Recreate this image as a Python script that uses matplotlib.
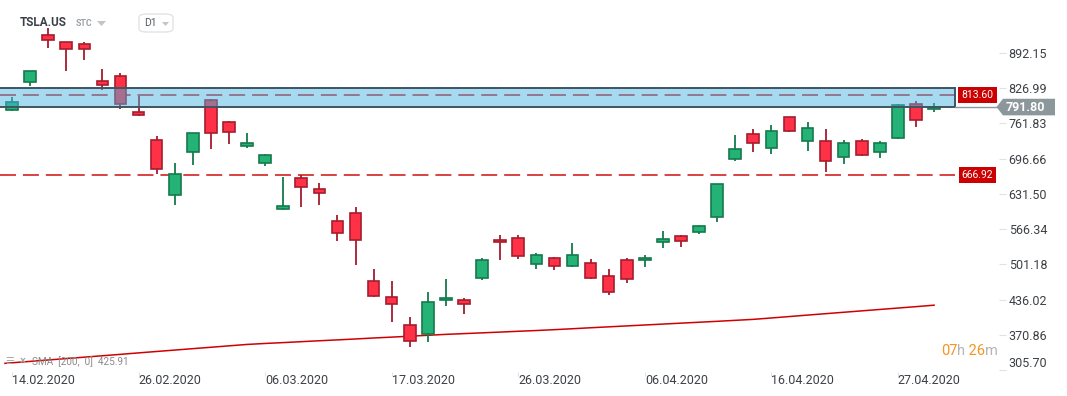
import matplotlib
matplotlib.use('Agg')
import matplotlib.pyplot as plt
from matplotlib.patches import Rectangle, Polygon, FancyBboxPatch

plt.rcParams['font.family'] = ['Roboto', 'DejaVu Sans']
plt.rcParams['lines.scale_dashes'] = False

# daily candles, TSLA.US
dates = ['14.02.2020', '18.02.2020', '19.02.2020', '20.02.2020', '21.02.2020', '24.02.2020',
         '25.02.2020', '26.02.2020', '27.02.2020', '28.02.2020', '02.03.2020', '03.03.2020',
         '04.03.2020', '05.03.2020', '06.03.2020', '09.03.2020', '10.03.2020', '11.03.2020',
         '12.03.2020', '13.03.2020', '16.03.2020', '17.03.2020', '18.03.2020', '19.03.2020',
         '20.03.2020', '23.03.2020', '24.03.2020', '25.03.2020', '26.03.2020', '27.03.2020',
         '30.03.2020', '31.03.2020', '01.04.2020', '02.04.2020', '03.04.2020', '06.04.2020',
         '07.04.2020', '08.04.2020', '09.04.2020', '13.04.2020', '14.04.2020', '15.04.2020',
         '16.04.2020', '17.04.2020', '20.04.2020', '21.04.2020', '22.04.2020', '23.04.2020',
         '24.04.2020', '27.04.2020', '28.04.2020', '29.04.2020']
opens = [785.8, 838.6, 924.3, 911.3, 907.7, 839.4, 848.6, 782.1, 730.4, 628.9, 709.4, 804.3,
         763.6, 720.5, 688.0, 603.0, 660.3, 640.5, 581.5, 595.6, 470.2, 440.6, 388.9, 372.3,
         435.1, 435.1, 475.7, 546.4, 549.5, 501.5, 512.6, 498.9, 503.4, 479.4, 508.9, 508.9,
         542.1, 553.2, 560.6, 588.3, 696.5, 741.5, 715.7, 772.9, 729.7, 728.6, 699.0, 728.6,
         708.3, 734.1, 796.9, 787.7]
highs = [810.9, 858.5, 937.2, 912.0, 911.9, 862.1, 854.1, 812.2, 738.4, 688.5, 744.0, 806.7,
         766.1, 743.9, 705.1, 662.7, 666.4, 651.6, 592.5, 607.3, 492.8, 470.7, 404.2, 450.5,
         474.4, 439.3, 513.2, 555.6, 555.6, 522.4, 514.9, 540.6, 511.3, 492.8, 513.2, 518.1,
         562.7, 555.6, 573.6, 650.5, 740.2, 751.3, 758.7, 773.5, 764.2, 751.3, 731.0, 732.2,
         729.1, 797.4, 803.0, 799.3]
lows = [785.0, 831.2, 901.4, 858.9, 879.2, 822.7, 787.6, 776.0, 668.8, 611.6, 685.4, 714.9,
        724.1, 716.8, 683.5, 602.5, 607.9, 611.6, 545.1, 500.2, 441.7, 395.0, 349.4, 358.6,
        425.1, 410.3, 473.1, 510.0, 511.8, 493.4, 491.6, 497.1, 475.0, 445.4, 467.6, 497.1,
        532.2, 532.8, 557.0, 580.2, 692.8, 709.4, 705.7, 746.3, 711.2, 672.5, 687.2, 702.0,
        698.3, 733.5, 755.5, 783.2]
closes = [800.6, 857.8, 915.0, 898.4, 898.4, 832.0, 798.0, 776.6, 676.9, 667.7, 743.4, 743.4,
          746.3, 725.4, 702.7, 608.6, 643.7, 632.6, 558.8, 545.8, 443.6, 427.7, 359.4, 431.4,
          438.8, 427.7, 508.9, 542.1, 516.3, 518.1, 498.9, 518.1, 475.7, 449.8, 473.9, 513.2,
          547.7, 544.0, 571.7, 649.2, 713.8, 724.9, 747.1, 748.2, 752.6, 691.6, 724.9, 702.7,
          724.9, 795.0, 767.4, 791.8]
sma200 = [319.5, 322.1, 324.7, 327.3, 329.9, 332.5, 335.1, 337.8, 340.4, 343.0, 345.6, 348.2,
          350.8, 353.4, 355.2, 356.8, 358.5, 360.2, 361.8, 363.5, 365.3, 366.9, 368.6, 370.3,
          372.0, 373.4, 374.8, 376.2, 377.7, 379.1, 380.7, 382.4, 384.2, 385.9, 387.6, 389.3,
          391.0, 392.7, 394.4, 396.1, 397.9, 399.7, 402.3, 404.9, 407.6, 410.2, 412.8, 415.4,
          418.0, 420.6, 423.2, 425.9]

zone_low, zone_high = 791.8, 826.5
level_1 = 813.60
level_2 = 666.92
last_price = 791.80
sma_last = 425.91
price_ticks = [305.70, 370.86, 436.02, 501.18, 566.34, 631.50, 696.66, 761.83, 826.99, 892.15]
date_tick_idx = [0, 7, 14, 21, 28, 35, 42, 49]

W, H = 1067, 396
GREEN, GREEN_E = '#25b277', '#157a4c'
RED, RED_E = '#ff3146', '#a51d2d'


def fpx(x, y):
    # figure pixel -> figure fraction
    return x / W, 1 - y / H


def ix(px):
    # figure pixel -> candle index
    return (px - 12) / 18.08


fig = plt.figure(figsize=(W / 100, H / 100), dpi=100)
ax = fig.add_axes([0, (H - 372) / H, 999 / W, 372 / H])
ax.set_xlim(ix(0), ix(999))
ax.set_ylim(302.5, 989.5)
for s in ax.spines.values():
    s.set_visible(False)

xs = list(range(len(dates)))

# sma
ax.plot([ix(5)] + xs, [sma200[0] - 1.0] + sma200, color='#d00000', lw=1.1, zorder=1)

# horizontal levels
band_end = ix(955)
ax.plot([ix(0), band_end], [level_1, level_1], color='#d01010', lw=1.1,
        linestyle=(0, (11.5, 5)), zorder=1.5)
ax.plot([ix(0), band_end], [level_2, level_2], color='#d01010', lw=1.1,
        linestyle=(0, (11.5, 5)), zorder=1.5)

# candles
for i in xs:
    o, h, l, c = opens[i], highs[i], lows[i], closes[i]
    up = c >= o
    fc, ec = (GREEN, GREEN_E) if up else (RED, RED_E)
    ax.vlines(i, l, h, color=ec, lw=1.3, zorder=2)
    lo = min(o, c)
    ht = max(abs(c - o), 1.5)
    ax.bar(i, ht, bottom=lo, width=0.64, color=fc, edgecolor=ec, linewidth=1.2, zorder=2.5)

# resistance zone
ax.add_patch(Rectangle((ix(0), zone_low), band_end - ix(0), zone_high - zone_low,
                       facecolor=(70 / 255, 178 / 255, 224 / 255, 0.48),
                       edgecolor='none', zorder=3))
for lvl in [zone_low, zone_high]:
    ax.plot([ix(0), band_end], [lvl, lvl], color='#3e5561', lw=1.4, zorder=3.1)
ax.plot([band_end, band_end], [zone_low, zone_high], color='#3e5561', lw=1.4, zorder=3.1)

# level tags
for lvl in [level_1, level_2]:
    ax.text(ix(977.5), lvl, '%.2f' % lvl, ha='center', va='center', color='white',
            fontsize=7.5, zorder=5,
            bbox=dict(boxstyle='square,pad=0.3', fc='#cc0000', ec='none'))

# current price tag
ax.plot([band_end, ix(997)], [last_price, last_price], color='#8c979b', lw=1.0,
        clip_on=False, zorder=4)
hh = 8.3 * 1.8466
ax.add_patch(Polygon([(ix(996.5), last_price), (ix(1003), last_price + hh),
                      (ix(1055), last_price + hh), (ix(1055), last_price - hh),
                      (ix(1003), last_price - hh)], closed=True, fc='#8c979b', ec='none',
                     clip_on=False, zorder=5))
ax.text(ix(1025), last_price, '%.2f' % last_price, ha='center', va='center', color='white',
        fontsize=9, fontweight='bold', zorder=6, clip_on=False)

# axes ticks
ax.yaxis.tick_right()
ax.set_yticks(price_ticks)
ax.set_yticklabels(['%.2f' % v for v in price_ticks])
ax.tick_params(axis='y', length=5, color='#e2e2e2', pad=2, labelsize=9, labelcolor='#3c4045')
ax.get_yticklabels()[0].set_va('bottom')
ax.set_xticks(date_tick_idx)
ax.set_xticklabels([dates[i] for i in date_tick_idx], ha='left')
ax.tick_params(axis='x', length=3, color='#e2e2e2', pad=-1.5, labelsize=9, labelcolor='#3c4045')

# header
fig.text(*fpx(20, 23), 'TSLA.US', fontsize=8.5, fontweight='bold', color='#3a3f44', va='center')
fig.text(*fpx(76, 24), 'STC', fontsize=6.3, fontweight='bold', color='#9aa3a8', va='center')
fig.patches.append(Polygon([fpx(97, 21), fpx(106, 21), fpx(101.5, 26)], closed=True,
                           fc='#c4c4c4', ec='none', transform=fig.transFigure))
x0, y0 = fpx(139, 32)
x1, y1 = fpx(173, 14)
fig.patches.append(FancyBboxPatch((x0, y0), x1 - x0, y1 - y0,
                                  boxstyle='round,pad=0,rounding_size=0.008',
                                  fc='white', ec='#e3e3e3', lw=1, transform=fig.transFigure))
fig.text(*fpx(144, 23.5), 'D1', fontsize=7.5, color='#555a5e', va='center')
fig.patches.append(Polygon([fpx(162, 22), fpx(169, 22), fpx(165.5, 26)], closed=True,
                           fc='#c4c4c4', ec='none', transform=fig.transFigure))

# indicator legend
fig.text(*fpx(5, 361), '\u2630', fontsize=7, color='#aaaaaa', va='center', family='DejaVu Sans')
fig.text(*fpx(20, 361), '\u00d7', fontsize=8, fontweight='bold', color='#aaaaaa', va='center')
fig.text(*fpx(32, 362), 'SMA  [200,  0]  %.2f' % sma_last, fontsize=7.2, color='#8a8a8a',
         va='center')

# countdown
renderer = fig.canvas.get_renderer()
xp = 941
for part, col in [('07', '#f7931e'), ('h', '#b5b5b5'), (' 26', '#f7931e'), ('m', '#b5b5b5')]:
    t = fig.text(*fpx(xp, 351), part, fontsize=10.5, color=col, va='center')
    bb = t.get_window_extent(renderer)
    xp += bb.width

fig.savefig('out.png', dpi=100)
